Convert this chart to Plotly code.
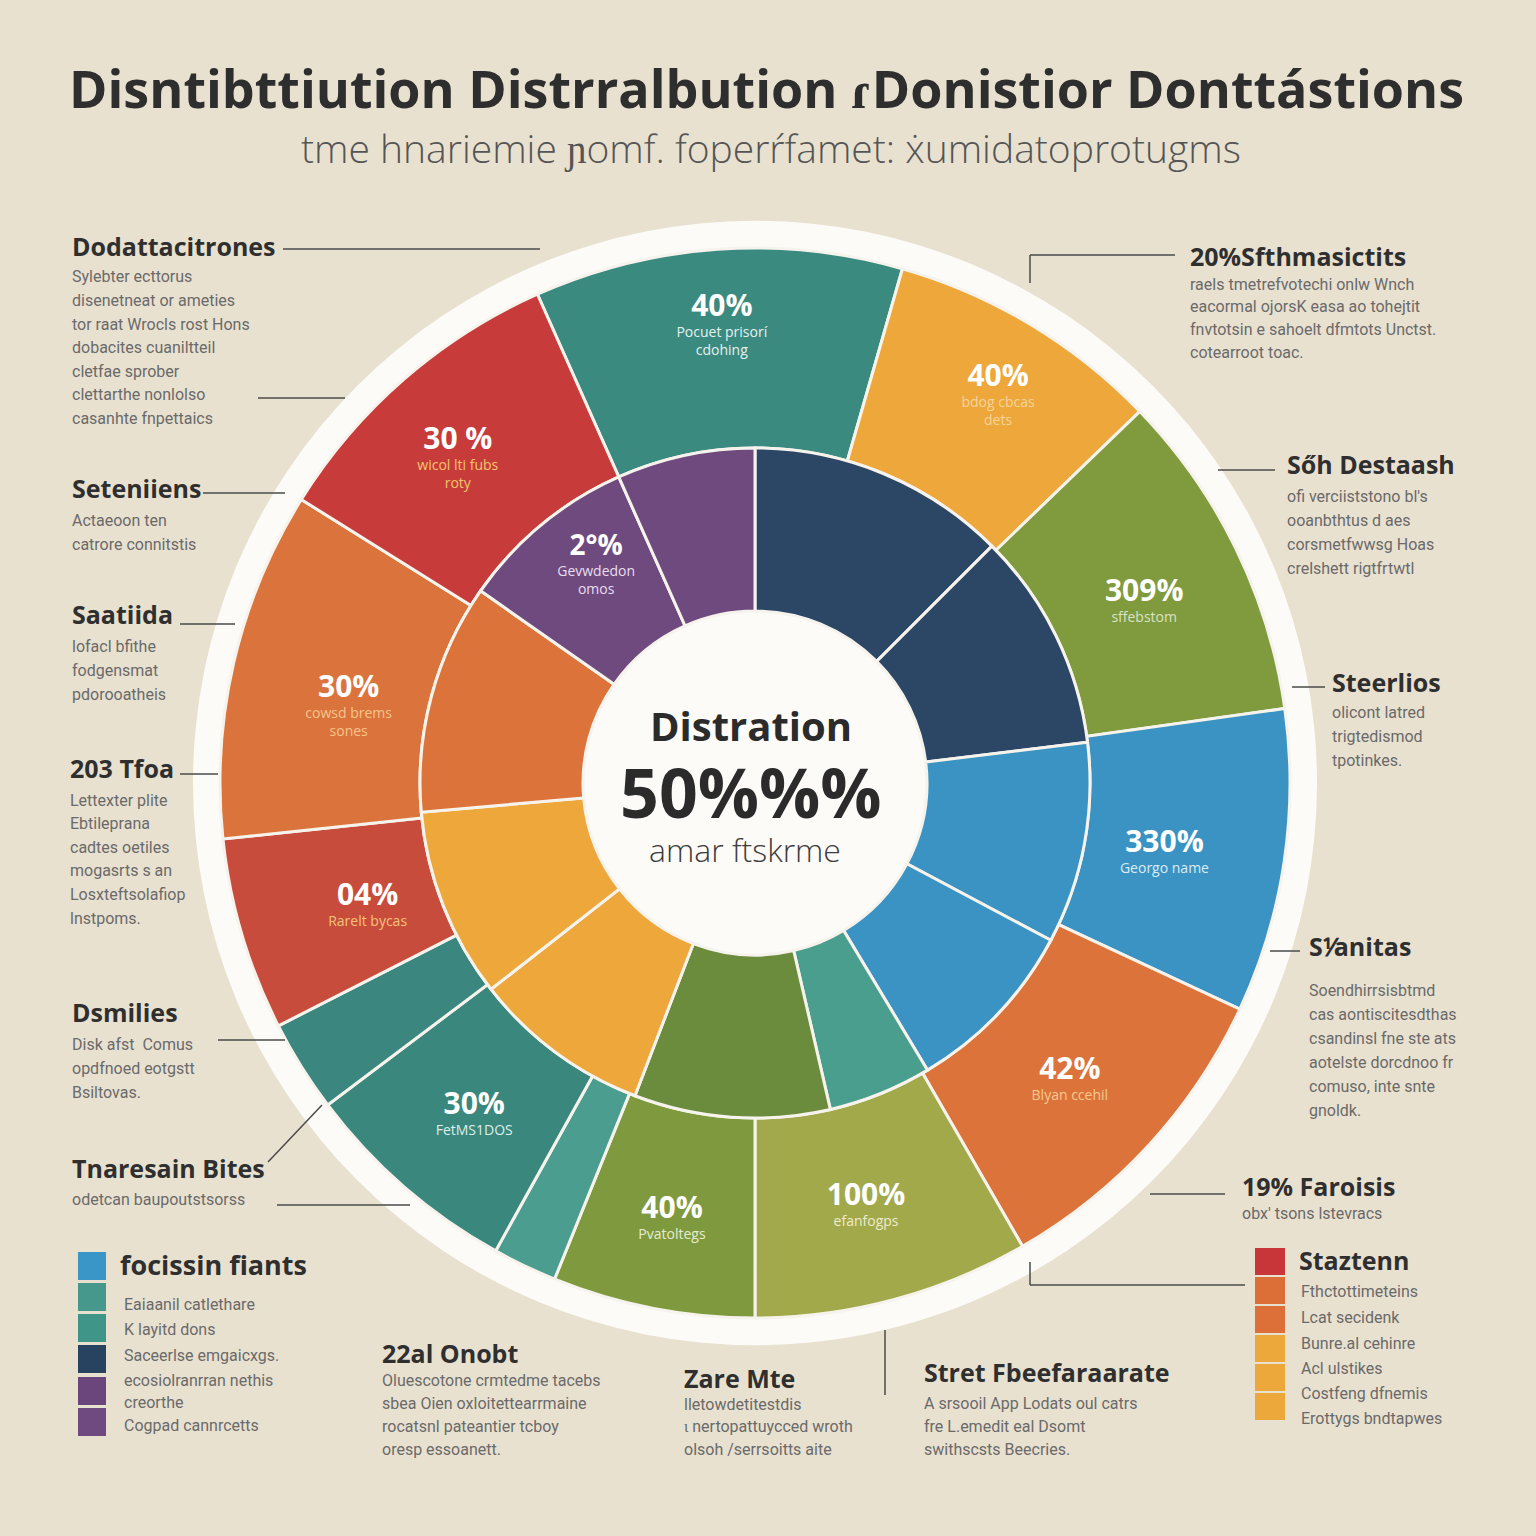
import plotly.graph_objects as go
import numpy as np

W = H = 1536
CX, CY = 755, 783          # centre of the wheel in page pixels
R_MAX = 565                # radial axis range in pixels

# ---------------- data ----------------
outer_start = -24
outer_sizes = [40, 30, 36, 33, 35, 30, 22, 7, 24, 10, 21, 38, 34]
outer_colors = ["#3a8a80", "#eda73b", "#7f9b3d", "#3a93c2", "#dc733a", "#a2a94b",
                "#7f9a3e", "#4b9e8f", "#3a877e", "#3b877f", "#c84c3c", "#db743c", "#c83b3b"]
outer_pct = ["40%", "40%", "309%", "330%", "42%", "100%", "40%", "", "30%", "", "04%", "30%", "30 %"]
outer_sub = ["Pocuet prisorí<br>cdohing", "bdog cbcas<br>dets", "sffebstom", "Georgo name",
             "Blyan ccehil", "efanfogps", "Pvatoltegs", "", "FetMS1DOS", "",
             "Rarelt bycas", "cowsd brems<br>sones", "wicol lti fubs<br>roty"]
outer_sub_col = ["#e6f0ee", "#f6d49a", "#d9e3c4", "#dcecf5", "#f7c98e", "#efeccc",
                 "#e6ecd2", "#ffffff", "#dcefe9", "#ffffff", "#f4c37a", "#f6c48a", "#f3c66a"]
outer_lbl_r = [476, 472, 433, 414, 427, 429, 435, 440, 428, 440, 404, 417, 453]

inner_start = 0
inner_sizes = [45, 38, 35, 31, 18, 34, 31, 33, 40, 31, 24]
inner_colors = ["#2c4666", "#2c4666", "#3a93c2", "#3a93c2", "#4a9e8e", "#6b8b3d",
                "#eda73b", "#eda73b", "#dc733a", "#6f4a7e", "#6f4a7e"]
inner_pct = ["", "", "", "", "", "", "", "", "", "2°%", ""]
inner_sub = ["", "", "", "", "", "", "", "", "", "Gevwdedon<br>omos", ""]

R_HOLE, R_MID, R_OUT, R_RING = 172, 335, 535, 562

center_lines = ["Distration", "50%%%", "amar ftskrme"]

title_text = "Disntibttiution Distrralbution ɾDonistior Donttástions"
subtitle_text = "tme hnariemie ɲomf. foperŕfamet: ẋumidatoprotugms"

left_notes = [
    ("Dodattacitrones", ["Sylebter ecttorus", "disenetneat or ameties", "tor raat Wrocls rost Hons",
                         "dobacites cuaniltteil", "cletfae sprober", "clettarthe nonlolso",
                         "casanhte fnpettaics"]),
    ("Seteniiens", ["Actaeoon ten", "catrore connitstis"]),
    ("Saatiida", ["lofacl bfithe", "fodgensmat", "pdorooatheis"]),
    ("203 Tfoa", ["Lettexter plite", "Ebtileprana", "cadtes oetiles", "mogasrts s an",
                  "Losxteftsolafiop", "lnstpoms."]),
    ("Dsmilies", ["Disk afst  Comus", "opdfnoed eotgstt", "Bsiltovas."]),
    ("Tnaresain Bites", ["odetcan baupoutstsorss"]),
]
right_notes = [
    ("20%Sfthmasictits", ["raels tmetrefvotechi onlw Wnch", "eacormal ojorsK easa ao tohejtit",
                          "fnvtotsin e sahoelt dfmtots Unctst.", "cotearroot toac."]),
    ("Sőh Destaash", ["ofi verciiststono bl's", "ooanbthtus d aes", "corsmetfwwsg Hoas",
                      "crelshett rigtfrtwtl"]),
    ("Steerlios", ["olicont latred", "trigtedismod", "tpotinkes."]),
    ("S⅟anitas", ["Soendhirrsisbtmd", "cas aontiscitesdthas", "csandinsl fne ste ats",
                  "aotelste dorcdnoo fr", "comuso, inte snte", "gnoldk."]),
    ("19% Faroisis", ["obx' tsons lstevracs"]),
]
bottom_notes = [
    ("22al Onobt", ["Oluescotone crmtedme tacebs", "sbea Oien oxloitettearrmaine",
                    "rocatsnl pateantier tcboy", "oresp essoanett."]),
    ("Zare Mte", ["lletowdetitestdis", "ɩ nertopattuycced wroth", "olsoh /serrsoitts aite"]),
    ("Stret Fbeefaraarate", ["A srsooil App Lodats oul catrs", "fre L.emedit eal Dsomt",
                             "swithscsts Beecries."]),
]
legend_left_title = "focissin fiants"
legend_left_items = ["Eaiaanil catlethare", "K layitd dons", "Saceerlse emgaicxgs.",
                     "ecosiolranrran nethis", "creorthe", "Cogpad cannrcetts"]
legend_left_colors = ["#3a96c6", "#46978c", "#3f9588", "#27435f", "#6b467c", "#6f4a80"]
legend_right_title = "Staztenn"
legend_right_items = ["Fthctottimeteins", "Lcat secidenk", "Bunre.al cehinre",
                      "Acl ulstikes", "Costfeng dfnemis", "Erottygs bndtapwes"]
legend_right_colors = ["#c9363a", "#dc6e38", "#dc7038", "#eda83b", "#eda83b", "#eda83b"]

# ---------------- layout positions (pixels) ----------------
left_pos = [(70, 246, 277, 23.6), (70, 488, 521, 24), (70, 614, 647, 23.5),
            (68, 768, 800, 23.6), (70, 1012, 1044, 24), (70, 1168, 1199, 24)]
right_pos = [(1188, 256, 284, 22.7), (1285, 464, 496, 24.3), (1330, 682, 712, 24),
             (1307, 946, 990, 24), (1240, 1186, 1213, 24)]
bottom_pos = [(380, 1353, 1380, 23), (682, 1378, 1404, 22.5), (922, 1372, 1403, 23)]


def px(x):
    return x / W


def py(y):
    return 1 - y / H


def centers(start, sizes):
    s = np.array(sizes, dtype=float)
    return start + np.cumsum(s) - s / 2


fig = go.Figure()

# white disk (ring + centre)
fig.add_trace(go.Barpolar(theta=[0], r=[R_RING], base=[0], width=[360],
                          marker=dict(color="#fcfbf8", line=dict(width=0)),
                          hoverinfo="skip", showlegend=False))

oc = centers(outer_start, outer_sizes)
fig.add_trace(go.Barpolar(theta=oc, r=[R_OUT - R_MID] * len(oc), base=[R_MID] * len(oc),
                          width=outer_sizes,
                          marker=dict(color=outer_colors, line=dict(color="#f6f3ec", width=3)),
                          hoverinfo="skip", showlegend=False))
ic = centers(inner_start, inner_sizes)
fig.add_trace(go.Barpolar(theta=ic, r=[R_MID - R_HOLE] * len(ic), base=[R_HOLE] * len(ic),
                          width=inner_sizes,
                          marker=dict(color=inner_colors, line=dict(color="#f6f3ec", width=3)),
                          hoverinfo="skip", showlegend=False))

# segment labels: percentage centred on the point, caption below it
fig.add_trace(go.Scatterpolar(r=outer_lbl_r, theta=oc, mode="text", text=outer_pct,
                              textposition="middle center",
                              textfont=dict(family="Open Sans", size=30, color="white", weight=700),
                              hoverinfo="skip", showlegend=False))
fig.add_trace(go.Scatterpolar(r=outer_lbl_r, theta=oc, mode="text",
                              text=["<br>" + s if s else "" for s in outer_sub],
                              textposition="bottom center",
                              textfont=dict(family="Open Sans", size=14, color=outer_sub_col),
                              hoverinfo="skip", showlegend=False))
in_r = [284 if t else 250 for t in inner_pct]
in_theta = [326 if t else c for t, c in zip(inner_pct, ic)]
fig.add_trace(go.Scatterpolar(r=in_r, theta=in_theta, mode="text", text=inner_pct,
                              textposition="middle center",
                              textfont=dict(family="Open Sans", size=28, color="white", weight=700),
                              hoverinfo="skip", showlegend=False))
fig.add_trace(go.Scatterpolar(r=in_r, theta=in_theta, mode="text",
                              text=["<br>" + s if s else "" for s in inner_sub],
                              textposition="bottom center",
                              textfont=dict(family="Open Sans", size=14, color="#e8def0"),
                              hoverinfo="skip", showlegend=False))

ann = []
shapes = []


def text(x, y, t, size, color, weight=400, xanchor="left", family="Open Sans", height=None):
    a = dict(x=px(x), y=py(y), xref="paper", yref="paper", text=t, showarrow=False,
             xanchor=xanchor, yanchor="middle",
             font=dict(family=family, size=size, color=color, weight=weight))
    if height:
        a["height"] = height
    ann.append(a)


def line(x0, y0, x1, y1, color="#4a4a4a", width=1.5):
    shapes.append(dict(type="line", xref="paper", yref="paper", x0=px(x0), y0=py(y0),
                       x1=px(x1), y1=py(y1), line=dict(color=color, width=width)))


# title
text(766, 88, title_text, 52, "#2e2e2e", 700, "center")
text(771, 148, subtitle_text, 39, "#555555", 300, "center")

# centre
text(751, 725, center_lines[0], 40, "#2b2b2b", 700, "center", height=44)
text(751, 791, center_lines[1], 68, "#2b2b2b", 700, "center", height=70)
text(745, 849, center_lines[2], 32, "#3c3c3c", 300, "center", height=36)

BODY = "#6a6a6a"
HEAD = "#2f2f2f"
for (h, body), (x, yh, yb, dy) in zip(left_notes + right_notes + bottom_notes,
                                      left_pos + right_pos + bottom_pos):
    text(x, yh, h, 25, HEAD, 700, family="Open Sans")
    for i, b in enumerate(body):
        text(x, yb + i * dy, b, 16, BODY, 400, family="Roboto")

# connector lines
line(283, 249, 540, 249)
line(258, 398, 345, 398)
line(203, 493, 285, 493)
line(180, 624, 235, 624)
line(180, 774, 218, 774)
line(218, 1040, 285, 1040)
line(268, 1162, 322, 1105)
line(277, 1205, 410, 1205)
line(1030, 255, 1175, 255)
line(1030, 255, 1030, 283)
line(1218, 470, 1275, 470)
line(1292, 687, 1325, 687)
line(1270, 951, 1300, 951)
line(1150, 1194, 1225, 1194)
line(1030, 1285, 1245, 1285)
line(1030, 1262, 1030, 1285)
line(885, 1330, 885, 1395)

# legend left
ly = [1252, 1283, 1314, 1345, 1377, 1408]
for c, y in zip(legend_left_colors, ly):
    shapes.append(dict(type="rect", xref="paper", yref="paper", x0=px(78), x1=px(106),
                       y0=py(y), y1=py(y + 28), fillcolor=c, line=dict(width=0)))
text(118, 1264, legend_left_title, 27, HEAD, 700)
for t, y in zip(legend_left_items, [1304, 1329, 1355, 1380, 1402, 1425]):
    text(122, y, t, 16, BODY, 400, family="Roboto")

# legend right
ry = [1248, 1277, 1306, 1335, 1364, 1393]
for c, y in zip(legend_right_colors, ry):
    shapes.append(dict(type="rect", xref="paper", yref="paper", x0=px(1255), x1=px(1285),
                       y0=py(y), y1=py(y + 27), fillcolor=c, line=dict(width=0)))
text(1297, 1260, legend_right_title, 25, HEAD, 700)
for t, y in zip(legend_right_items, [1291, 1317, 1343, 1368, 1393, 1418]):
    text(1299, y, t, 16, BODY, 400, family="Roboto")

fig.update_layout(
    width=W, height=H, margin=dict(l=0, r=0, t=0, b=0),
    paper_bgcolor="#e9e1d0", plot_bgcolor="#e9e1d0",
    showlegend=False,
    annotations=ann, shapes=shapes,
    polar=dict(
        domain=dict(x=[px(CX - R_MAX), px(CX + R_MAX)], y=[py(CY + R_MAX), py(CY - R_MAX)]),
        bgcolor="rgba(0,0,0,0)",
        barmode="overlay",
        radialaxis=dict(range=[0, R_MAX], visible=False, showgrid=False),
        angularaxis=dict(rotation=90, direction="clockwise", visible=False, showgrid=False),
    ),
)

fig.write_html("out.html")
